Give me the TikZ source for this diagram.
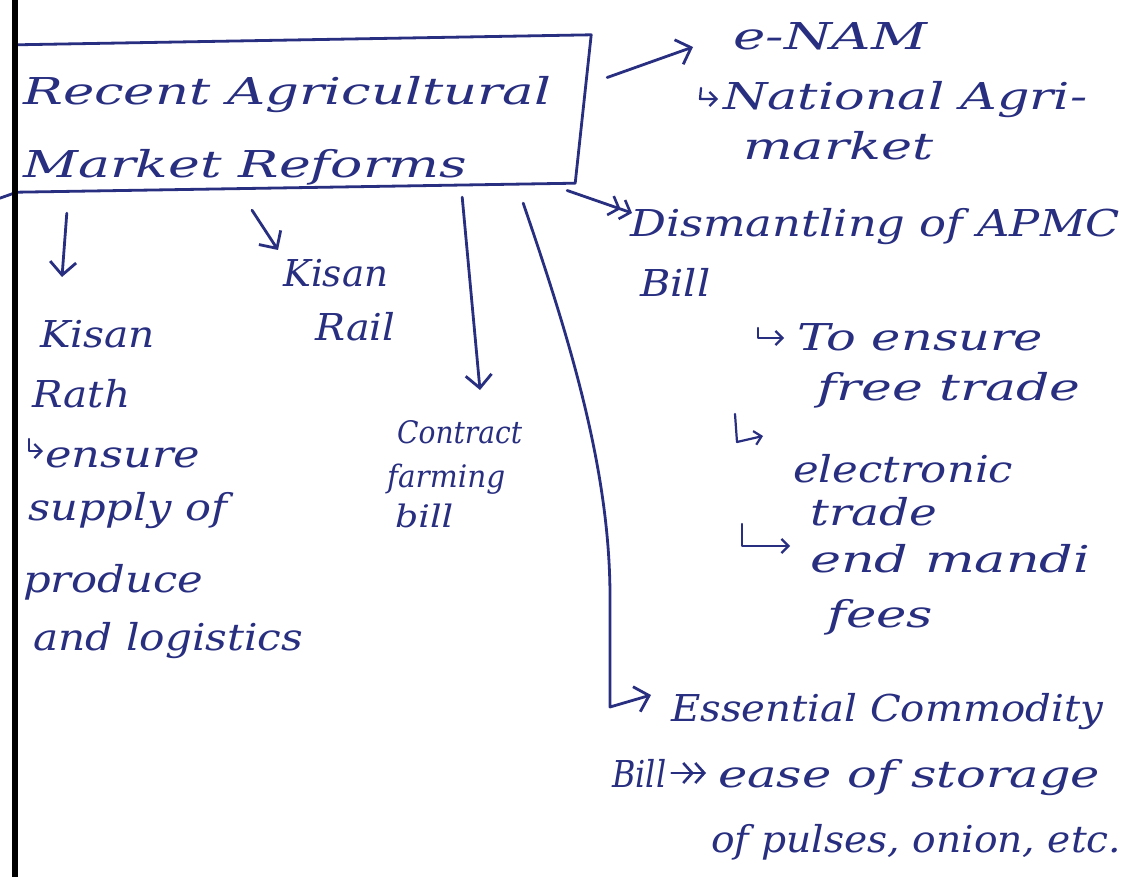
\documentclass[tikz,border=0pt]{standalone}
\usepackage{fontspec}
\usepackage{graphicx}
\setmainfont{DejaVu Serif}
\usetikzlibrary{arrows.meta,fit}
\definecolor{ink}{RGB}{40,46,128}
\newsavebox\hwbox
\newcommand{\fw}[2]{\sbox\hwbox{#2}\pgfmathsetmacro\hwf{#1/\wd\hwbox}\scalebox{\hwf}[1]{\usebox\hwbox}}
\newcommand{\hw}{\fontsize{37}{44}\selectfont\itshape}
\newcommand{\hws}{\fontsize{31}{37}\selectfont\itshape}
\begin{document}
\begin{tikzpicture}[x=1pt,y=-1pt,
  txt/.style={text=ink, font=\hw, inner sep=0pt, anchor=base west},
  stxt/.style={txt, font=\hws},
  arr/.style={draw=ink, line width=2.8pt, line cap=round, line join=round,
    -{Straight Barb[length=13pt,width=26pt,line width=2.8pt]}},
  darr/.style={draw=ink, line width=2.8pt, line cap=round, line join=round,
    -{Straight Barb[length=9pt,width=20pt,line width=2.6pt]Straight Barb[length=9pt,width=20pt,line width=2.6pt]}},
  hook/.style={draw=ink, line width=2.2pt, line cap=round, line join=round,
    -{Straight Barb[length=7pt,width=14pt,line width=2.2pt]}},
  frame/.style={draw=ink, line width=2.8pt, line join=round}
]
\fill[white] (0,0) rectangle (1124,877);
\useasboundingbox (0,0) rectangle (1124,877);

% title box
\node[txt] (title1) at (23,105) {\fw{528}{Recent Agricultural}};
\node[txt] (title2) at (23,178) {\fw{444}{Market Reforms}};
\node[inner sep=0pt, fit={(17,37) (585,190)}] (box) {};
\draw[frame] ([shift={(0,8)}]box.north west) -- ([shift={(6,-2)}]box.north east)
  -- ([shift={(-10,-7)}]box.south east) -- ([shift={(0,2)}]box.south west) -- ++(-17,6);
\draw[black, line width=5.5pt] (15,0) -- (15,877);

% e-NAM
\node[txt] (enam) at (733,50) {\fw{194}{e-NAM}};
\node[txt] (nat) at (723,110) {\fw{364}{National Agri-}};
\node[txt] (mkt) at (743,160) {\fw{190}{market}};
\draw[arr] ([shift={(22,-36)}]box.east) -- ([shift={(-40,-3)}]enam.base west);
\draw[hook] ([shift={(-22,-22)}]nat.base west) -- ++(-1,11) -- ++(18,0);

% APMC
\node[txt] (apmc1) at (630,237) {\fw{490}{Dismantling of APMC}};
\node[txt] (apmc2) at (640,297) {\fw{70}{Bill}};
\node[txt] (te) at (797,350) {\fw{246}{To ensure}};
\node[txt] (ft) at (817,400) {\fw{263}{free trade}};
\node[txt] (cel) at (793,482) {\fw{220}{electronic}};
\node[txt] (tr) at (810,525) {\fw{127}{trade}};
\node[txt] (em) at (810,572) {\fw{280}{end mandi}};
\node[txt] (fees) at (827,627) {\fw{106}{fees}};
\draw[darr] ([shift={(-18,77)}]box.east) -- ([shift={(2,-24)}]apmc1.base west);
\draw[hook] ([shift={(-39,-22)}]te.base west) -- ++(0,10) -- ++(26,0);
\draw[hook] ([shift={(-58,-68)}]cel.base west) -- ++(2,28) -- ++(26,-6);
\draw[hook] ([shift={(-68,-48)}]em.base west) -- ++(0,22) -- ++(48,0);

% Essential commodity
\node[txt] (ec1) at (671,721) {\fw{432}{Essential Commodity}};
\node[txt] (ec2) at (612,787) {\fw{54}{Bill}};
\node[txt] (ease) at (718,787) {\fw{382}{ease of storage}};
\node[txt] (puls) at (711,852) {\fw{410}{of pulses, onion, etc.}};
\coordinate (ecbend) at (610,707);
\draw[arr] ([shift={(-62,13)}]box.south east) .. controls (570,340) and (610,470) .. ([shift={(0,-110)}]ecbend) -- (ecbend) -- ([shift={(-20,-26)}]ec1.base west);
\draw[darr, line width=2.2pt] ([shift={(5,-14)}]ec2.base east) -- ([shift={(-12,-14)}]ease.base west);

% Contract farming
\node[stxt] (cf1) at (397,443) {\fw{125}{Contract}};
\node[stxt] (cf2) at (387,487) {\fw{118}{farming}};
\node[stxt] (cf3) at (395,527) {\fw{58}{bill}};
\draw[arr] ([shift={(-123,7)}]box.south east) -- ([shift={(83,-53)}]cf1.base west);

% Kisan Rail
\node[txt] (rail1) at (283,287) {\fw{105}{Kisan}};
\node[txt] (rail2) at (315,340) {\fw{80}{Rail}};
\draw[arr] ([shift={(-49,20)}]box.south) -- ([shift={(-5,-37)}]rail1.base west);

% Kisan Rath
\node[txt] (rath1) at (40,347) {\fw{115}{Kisan}};
\node[txt] (rath2) at (32,407) {\fw{98}{Rath}};
\node[txt] (rath3) at (45,467) {\fw{155}{ensure}};
\node[txt] (rath4) at (28,520) {\fw{199}{supply of}};
\node[txt] (rath5) at (23,592) {\fw{180}{produce}};
\node[txt] (rath6) at (33,650) {\fw{270}{and logistics}};
\draw[arr] ([shift={(50,23)}]box.south west) -- ([shift={(22,-70)}]rath1.base west);
\draw[hook] ([shift={(-16,-28)}]rath3.base west) -- ++(0,12) -- ++(14,0);
\end{tikzpicture}
\end{document}
